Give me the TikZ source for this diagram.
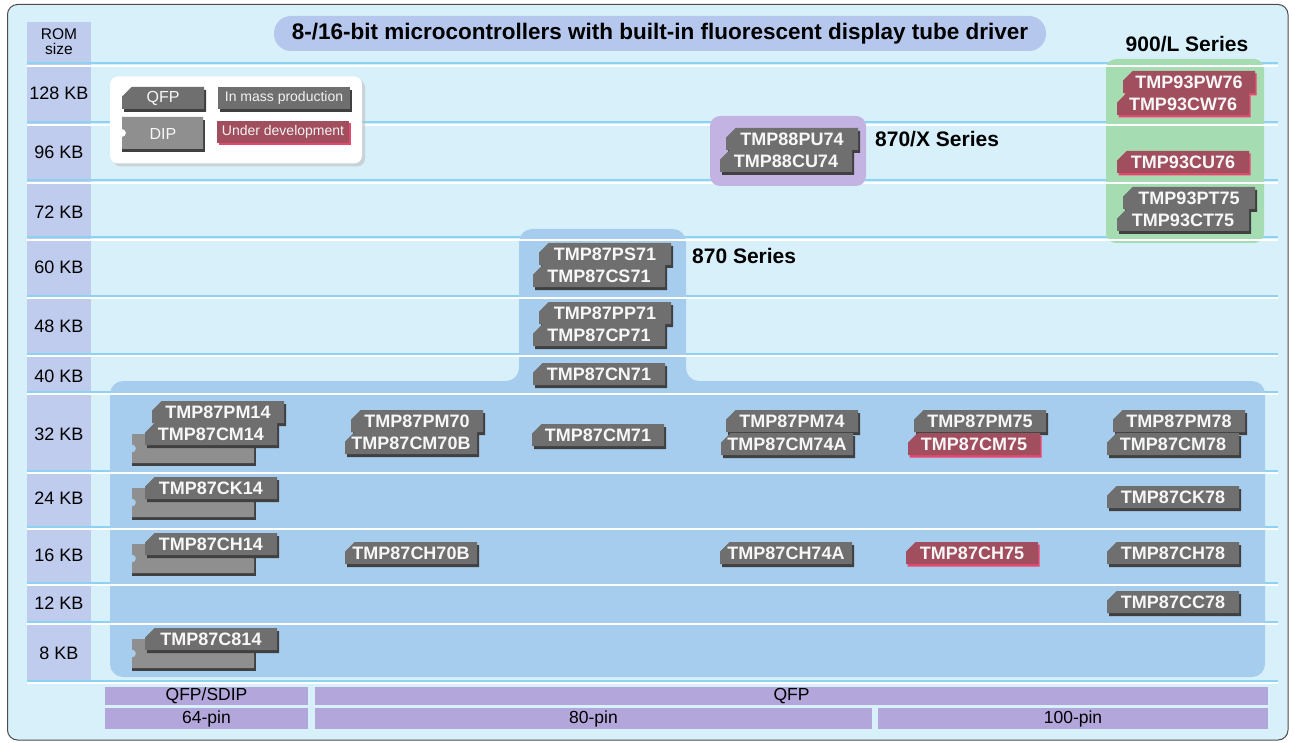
\documentclass[tikz,border=0pt]{standalone}
\usepackage{fontspec}
\setmainfont{Liberation Sans}
\usetikzlibrary{shapes.misc,shadows}
\definecolor{bgblue}{HTML}{D8F0FA}
\definecolor{rowline}{HTML}{8CD3F3}
\definecolor{romcol}{HTML}{BFCCEE}
\definecolor{titlefill}{HTML}{B5C7ED}
\definecolor{series870}{HTML}{A6CDEE}
\definecolor{seriesX}{HTML}{C2B3E2}
\definecolor{seriesL}{HTML}{A6DCB2}
\definecolor{pinbar}{HTML}{B2A6DB}
\definecolor{chipgray}{HTML}{6F6F6F}
\definecolor{chipred}{HTML}{A14E5E}
\definecolor{chippink}{HTML}{E5476F}
\definecolor{dipgray}{HTML}{8F8F8F}
\tikzset{
  chipbase/.style={chamfered rectangle, chamfered rectangle corners=north west,
    chamfered rectangle xsep=6pt, inner xsep=0pt, inner ysep=0pt,
    minimum width=132pt, minimum height=22pt, text=white!94!gray,
    font=\bfseries\fontsize{18}{18}\selectfont},
  chip/.style={chipbase, fill=chipgray,
    drop shadow={shadow xshift=2pt, shadow yshift=-3pt, fill=black!75, opacity=1}},
  redchip/.style={chipbase, fill=chipred,
    drop shadow={shadow xshift=1.5pt, shadow yshift=-2.5pt, fill=chippink, opacity=1}},
  tag/.style={rectangle, inner sep=0pt, minimum width=132pt, minimum height=22pt,
    text=white!90!gray, font=\fontsize{14}{14}\selectfont},
  romlabel/.style={inner sep=0pt, font=\fontsize{18}{18}\selectfont},
  series/.style={anchor=west, inner sep=0pt, font=\bfseries\fontsize{21}{21}\selectfont},
  pinbox/.style={fill=pinbar, inner sep=0pt, font=\fontsize{17.5}{17.5}\selectfont},
  pics/dipbody/.style 2 args={code={
    \fill[black!75] (0,#2-3) rectangle (#1+1.5,#2+3);
    \fill[black!75] (#1,3) rectangle (#1+1.5,#2+3);
    \fill[dipgray] (0,0) -- (#1,0) -- (#1,#2) -- (0,#2) -- (0,#2/2+4)
      arc[start angle=90, end angle=-90, radius=4] -- cycle;
  }}
}
\begin{document}
\begin{tikzpicture}[x=1pt,y=-1pt]
\useasboundingbox (0,0) rectangle (1295,743);
\draw[rounded corners=10, fill=bgblue, draw=black!70, line width=1pt] (7.5,4.5) rectangle (1288,740);
\fill[romcol] (27,22) rectangle (91,681);
\foreach \y in {63.5,122.5,180.5,237.5,295.5,353.5,391.5,470.5,526.5,582.5,621.5,680.5}
  \draw[rowline, line width=2pt] (27,\y) -- (1278,\y);
\fill[series870, rounded corners=13] (110,520) -- (110,381) -- (519,381) -- (519,229) -- (686,229)
  -- (686,381) -- (1265,381) -- (1265,677) -- (110,677) -- cycle;
\fill[seriesL, rounded corners=10] (1106,59) rectangle (1264,243);
\foreach \y in {63.5,122.5,180.5,237.5,295.5,353.5,391.5,470.5,526.5,582.5,621.5,680.5}
  \draw[white, line width=2pt] (27,\y+2.5) -- (1278,\y+2.5);
\fill[seriesX, rounded corners=10] (710,116) rectangle (866,186);

\node[fill=titlefill, rounded corners=17, minimum width=772pt, minimum height=35pt, inner sep=0pt,
  font=\bfseries\fontsize{22.5}{22.5}\selectfont] (title) at (660,33.5)
  {8-/16-bit microcontrollers with built-in fluorescent display tube driver};
\node[romlabel, align=center, font=\fontsize{15.5}{15}\selectfont] (romhead) at (59,42) {ROM\\size};
\foreach \k/\y in {128/93,96/152,72/212,60/267,48/326,40/376,32/434,24/498,16/555,12/603,8/653}
  \node[romlabel] (rom\k) at (59,\y) {\k\ KB};

\node[fill=white, rounded corners=8, minimum width=252pt, minimum height=87pt,
  drop shadow={shadow xshift=3pt, shadow yshift=-3pt, fill=black!25, opacity=0.6}] (legend) at (236,120) {};
\node[chip, minimum width=82pt, font=\fontsize{16}{16}\selectfont] (qfp) at (163,98) {QFP};
\pic at (122,117) {dipbody={81}{32}};
\node[inner sep=0pt, text=white!94!gray, font=\fontsize{16}{16}\selectfont] (dip) at (163,134) {DIP};
\node[tag, fill=chipgray, drop shadow={shadow xshift=2pt, shadow yshift=-3pt, fill=black!75, opacity=1}] (mass) at (284,98) {In mass production};
\node[tag, fill=chipred, drop shadow={shadow xshift=1.5pt, shadow yshift=-2.5pt, fill=chippink, opacity=1}] (devel) at (283,132) {Under development};

\node[series] (s870x) at (875,139) {870/X Series};
\node[series] (s870) at (692,256) {870 Series};
\node[series, anchor=center] (s900) at (1187,44) {900/L Series};

\node[redchip] (pw76) at (1189,82) {TMP93PW76};
\node[redchip] (cw76) at (1183,104) {TMP93CW76};
\node[redchip] (cu76) at (1183,162) {TMP93CU76};
\node[chip] (pt75) at (1189,198) {TMP93PT75};
\node[chip] (ct75) at (1183,220) {TMP93CT75};

\node[chip] (pu74) at (792,139) {TMP88PU74};
\node[chip] (cu74) at (786,161) {TMP88CU74};

\node[chip] (ps71) at (605,254) {TMP87PS71};
\node[chip] (cs71) at (599,276) {TMP87CS71};
\node[chip] (pp71) at (605,313) {TMP87PP71};
\node[chip] (cp71) at (599,335) {TMP87CP71};
\node[chip] (cn71) at (599,374) {TMP87CN71};

\node[chip] (pm14) at (218,412) {TMP87PM14};
\pic at (132,434) {dipbody={122}{29}};
\node[chip] (cm14) at (211,434) {TMP87CM14};
\pic at (132,488) {dipbody={122}{29}};
\node[chip] (ck14) at (211,488) {TMP87CK14};
\pic at (132,544) {dipbody={122}{29}};
\node[chip] (ch14) at (211,544) {TMP87CH14};
\pic at (132,639) {dipbody={122}{29}};
\node[chip] (c814) at (211,639) {TMP87C814};

\node[chip] (pm70) at (417,421) {TMP87PM70};
\node[chip] (cm70b) at (411,443) {TMP87CM70B};
\node[chip] (ch70b) at (411,553) {TMP87CH70B};
\node[chip] (cm71) at (598,435) {TMP87CM71};
\node[chip] (pm74) at (792,421) {TMP87PM74};
\node[chip] (cm74a) at (787,444) {TMP87CM74A};
\node[chip] (ch74a) at (786,553) {TMP87CH74A};
\node[chip] (pm75) at (980,421) {TMP87PM75};
\node[redchip] (cm75) at (974,444) {TMP87CM75};
\node[redchip] (ch75) at (972,553) {TMP87CH75};
\node[chip] (pm78) at (1179,421) {TMP87PM78};
\node[chip] (cm78) at (1173,444) {TMP87CM78};
\node[chip] (ck78) at (1173,497) {TMP87CK78};
\node[chip] (ch78) at (1173,553) {TMP87CH78};
\node[chip] (cc78) at (1173,602) {TMP87CC78};

\node[pinbox, minimum width=203pt, minimum height=18pt] (qfpsdip) at (206.5,696) {QFP/SDIP};
\node[pinbox, minimum width=953pt, minimum height=18pt] (qfpbar) at (791.5,696) {QFP};
\node[pinbox, minimum width=203pt, minimum height=21pt] (pin64) at (206.5,718.5) {64-pin};
\node[pinbox, minimum width=557pt, minimum height=21pt] (pin80) at (593.5,718.5) {80-pin};
\node[pinbox, minimum width=390pt, minimum height=21pt] (pin100) at (1073,718.5) {100-pin};
\end{tikzpicture}
\end{document}
